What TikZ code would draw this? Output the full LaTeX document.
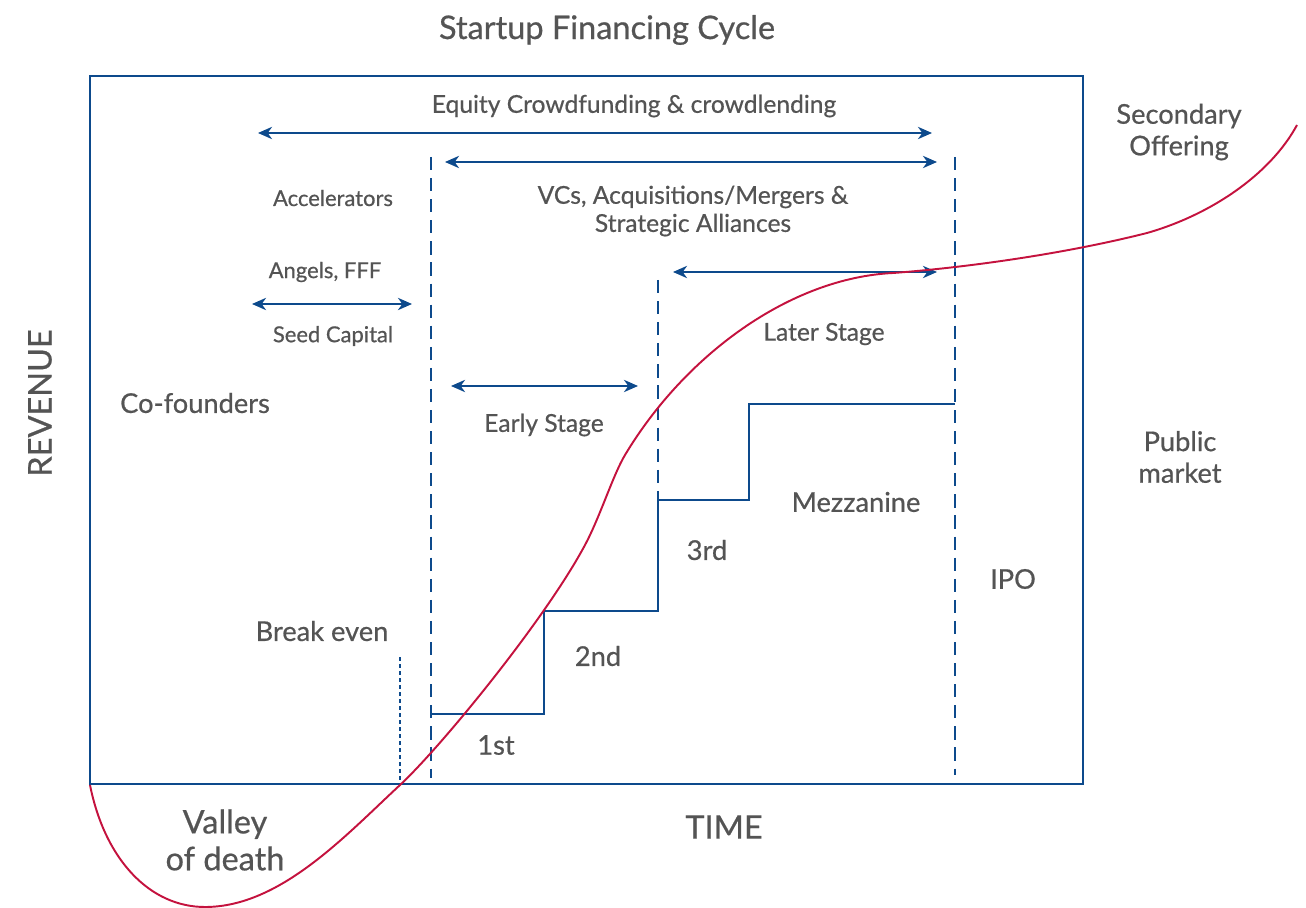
\documentclass[tikz,border=0pt]{standalone}
\usepackage{fontspec}
\setmainfont{Lato}[FakeBold=0.6]
\usetikzlibrary{arrows.meta,positioning}

\definecolor{finblue}{HTML}{0D4A8C}
\definecolor{finred}{HTML}{C4123E}
\definecolor{fingray}{HTML}{545454}

\tikzset{
  span/.style={{Stealth[length=8pt,width=7pt,inset=2.5pt]}-{Stealth[length=8pt,width=7pt,inset=2.5pt]}, finblue, line width=1.1pt},
  stageline/.style={finblue, line width=1.1pt, dash pattern=on 7.5pt off 4.5pt},
  evenline/.style={finblue, line width=1.1pt, dash pattern=on 2.2pt off 1.8pt},
  stairs/.style={finblue, line width=1.1pt},
  revenue/.style={finred, line width=1.1pt},
  lbl/.style={text=fingray, align=center, inner sep=0pt},
  small/.style={lbl, font=\fontsize{12.5}{14}\selectfont},
  mid/.style={lbl, font=\fontsize{14}{16}\selectfont},
  big/.style={lbl, font=\fontsize{15.5}{18}\selectfont},
  huge/.style={lbl, font=\fontsize{18.5}{21}\selectfont},
}

\begin{document}
\begin{tikzpicture}[x=0.2mm, y=-0.2mm]
  \useasboundingbox (0,0) rectangle (1306,908);

  % frame of the chart
  \draw[finblue, line width=1.1pt] (90,76) rectangle (1083,784);

  % stage borders
  \coordinate (seedtop) at (431,157);   \coordinate (seedbot) at (431,778);
  \coordinate (latetop) at (658,280);   \coordinate (latebot) at (658,500);
  \coordinate (ipotop)  at (955,157);   \coordinate (ipobot)  at (955,775);
  \coordinate (eventop) at (400,657);   \coordinate (evenbot) at (400,784);
  \draw[stageline] (seedtop) -- (seedbot);
  \draw[stageline] (latetop) -- (latebot);
  \draw[stageline] (ipotop) -- (ipobot);
  \draw[evenline] (eventop) -- (evenbot);

  % funding rounds
  \draw[stairs] (431,714) -- (544,714) -- (544,611) -- (658,611) -- (latebot)
    -- (749,500) -- (749,404) -- (955,404);

  % ranges
  \coordinate (crowdL) at (258,133); \coordinate (crowdR) at (932,133);
  \coordinate (vcL) at (445,162);    \coordinate (vcR) at (937,162);
  \coordinate (seedL) at (252,304);  \coordinate (seedR) at (412,304);
  \coordinate (earlyL) at (451,386); \coordinate (earlyR) at (638,386);
  \coordinate (laterL) at (673,272); \coordinate (laterR) at (937,272);
  \draw[span] (crowdL) -- (crowdR);
  \draw[span] (vcL) -- (vcR);
  \draw[span] (seedL) -- (seedR);
  \draw[span] (earlyL) -- (earlyR);
  \draw[span] (laterL) -- (laterR);

  % revenue over time
  \draw[revenue] (90,785) .. controls (105,860) and (150,907) .. (205,907)
    .. controls (280,907) and (345,836) .. (400,785)
    .. controls (440,748) and (545,620) .. (585,545)
    .. controls (600,517) and (613,475) .. (625,455)
    .. controls (685,355) and (790,278) .. (893,273)
    .. controls (960,268) and (1060,255) .. (1147,233)
    .. controls (1210,215) and (1270,175) .. (1297,125);

  % labels
  \node[huge] (title) at (607,30) {Startup Financing Cycle};
  \node[mid] (crowd) at (634,106) {Equity Crowdfunding \& crowdlending};
  \node[mid] (vc) at (693,211) {VCs, Acquisitions/Mergers \&\\Strategic Alliances};
  \node[small] (accel) at (333,198) {Accelerators};
  \node[small] (angels) at (325,272) {Angels, FFF};
  \node[small] (seed) at (333,336) {Seed Capital};
  \node[big] (cofound) at (195,403) {Co-founders};
  \node[mid] (later) at (824,334) {Later Stage};
  \node[mid] (early) at (544,425) {Early Stage};
  \node[big] (mezz) at (856,502) {Mezzanine};
  \node[big] (third) at (707,550) {3rd};
  \node[big] (second) at (598,656) {2nd};
  \node[big] (first) at (496,745) {1st};
  \node[big] (ipo) at (1013,579) {IPO};
  \node[big] (public) at (1180,457) {Public\\market};
  \node[big] (secondary) at (1179,132) {Secondary\\Offering};
  \node[big] (breakeven) at (322,631) {Break even};
  \node[huge] (valley) at (225,840) {Valley\\of death};
  \node[huge] (time) at (724,827) {TIME};
  \node[huge, rotate=90] (rev) at (40,403) {REVENUE};
\end{tikzpicture}
\end{document}
